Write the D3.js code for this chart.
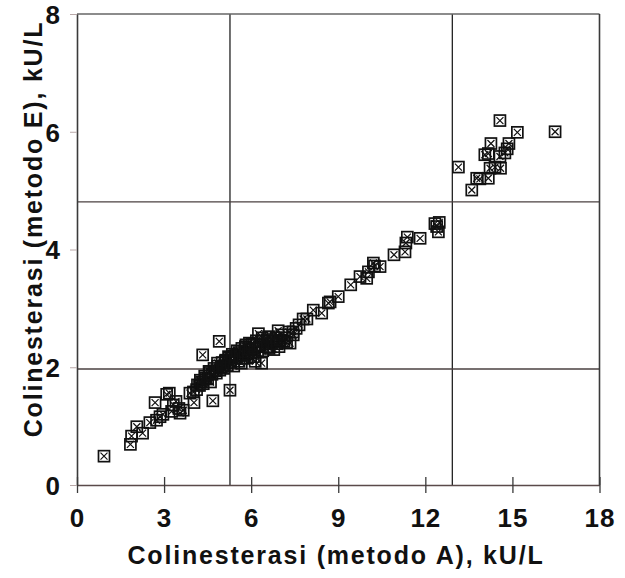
<!DOCTYPE html>
<html>
<head>
<meta charset="utf-8">
<script src="https://cdn.jsdelivr.net/npm/d3@7"></script>
<style>
	body { margin: 0; background: #fff; }
	text { font-family: "Liberation Sans", Arial, sans-serif; font-weight: bold; fill: #111; }
</style>
</head>
<body>
<div id="chart"></div>
<script>
// metodo A (x) vs metodo E (y), kU/L
const metodoA = [
	0.93, 1.84, 1.88, 2.06, 2.26, 2.51, 2.69, 2.74, 2.86, 2.96, 3.09, 3.18, 3.26, 3.32, 3.41, 3.55, 3.66, 3.51,
	3.89, 4.03, 4.12, 4.01, 4.22, 4.29, 4.43, 4.33, 4.68, 4.57, 4.77, 4.90, 4.84, 4.98, 5.11, 5.27, 5.25, 5.39,
	5.50, 5.59, 5.66, 5.80, 5.87, 5.94, 6.00, 6.14, 6.25, 6.28, 6.36, 6.42, 6.55, 6.62, 6.76, 6.93, 6.96, 7.13,
	7.34, 7.44, 7.65, 7.79, 7.92, 8.14, 8.43, 8.66, 8.72, 9.00, 9.43, 9.75, 9.98, 10.04, 10.21, 10.25, 10.44,
	10.92, 11.30, 11.33, 11.38, 11.82, 12.33, 12.39, 12.45, 12.48,
	// dense band
	4.15, 4.25, 4.35, 4.40, 4.50, 4.55, 4.60, 4.65, 4.72, 4.80, 4.85, 4.92, 5.00, 5.05, 5.12, 5.18, 5.22, 5.30,
	5.35, 5.40, 5.45, 5.52, 5.58, 5.62, 5.68, 5.72, 5.78, 5.82, 5.90, 5.95, 6.02, 6.08, 6.12, 6.18, 6.22, 6.30,
	6.38, 6.40, 6.48, 6.55, 6.60, 6.70, 6.78, 6.85, 6.90, 7.00, 7.05, 7.15, 7.22, 7.30, 7.45, 7.55,
	// upper group
	13.14, 13.60, 13.77, 13.88, 14.17, 14.23, 14.40, 14.59, 14.05, 14.17, 14.57, 14.74, 14.82, 14.26, 14.88,
	14.57, 15.17, 16.47,
];
const metodoE = [
	0.49, 0.69, 0.83, 0.99, 0.88, 1.06, 1.40, 1.10, 1.16, 1.20, 1.54, 1.56, 1.25, 1.36, 1.42, 1.22, 1.27, 1.30,
	1.56, 1.40, 1.62, 1.58, 1.69, 1.75, 1.82, 2.21, 1.43, 1.91, 1.94, 2.44, 2.07, 2.00, 2.10, 1.61, 2.16, 2.19,
	2.21, 2.25, 2.07, 2.35, 2.16, 2.41, 2.25, 2.10, 2.57, 2.35, 2.07, 2.44, 2.47, 2.32, 2.44, 2.62, 2.35, 2.44,
	2.41, 2.60, 2.72, 2.82, 2.82, 2.97, 2.92, 3.09, 3.11, 3.20, 3.40, 3.54, 3.51, 3.62, 3.77, 3.72, 3.71,
	3.91, 3.96, 4.11, 4.21, 4.19, 4.44, 4.39, 4.30, 4.46,
	1.70, 1.78, 1.72, 1.85, 1.80, 1.93, 1.75, 1.88, 1.98, 1.90, 2.02, 1.95, 2.08, 1.98, 2.12, 2.03, 2.18, 2.08,
	2.22, 2.02, 2.15, 2.28, 2.10, 2.20, 2.32, 2.15, 2.26, 2.38, 2.22, 2.30, 2.40, 2.18, 2.32, 2.45, 2.26, 2.38,
	2.50, 2.28, 2.40, 2.35, 2.52, 2.42, 2.30, 2.50, 2.40, 2.46, 2.55, 2.50, 2.42, 2.60, 2.55, 2.66,
	5.40, 5.01, 5.21, 5.20, 5.21, 5.38, 5.40, 5.38, 5.61, 5.63, 5.58, 5.64, 5.71, 5.80, 5.80,
	6.19, 5.99, 6.00,
];
const xTicks = [0, 3, 6, 9, 12, 15, 18];
const yTicks = [0, 2, 4, 6, 8];
const refX = [5.27, 12.93];
const refY = [1.97, 4.81];
const xTitle = "Colinesterasi (metodo A), kU/L";
const yTitle = "Colinesterasi (metodo E), kU/L";

const width = 625;
const height = 578;
const margin = { top: 14, right: 25.5, bottom: 93, left: 77 };

const svg = d3
	.select("#chart")
	.append("svg")
	.attr("width", width)
	.attr("height", height);

const x = d3.scaleLinear().domain([0, 18]).range([margin.left, width - margin.right]);
const y = d3.scaleLinear().domain([0, 8]).range([height - margin.bottom, margin.top]);

const lineColor = "#3a3a3a";

// reference lines
svg.selectAll(".refx")
	.data(refX)
	.join("line")
	.attr("x1", d => x(d)).attr("x2", d => x(d))
	.attr("y1", y(8)).attr("y2", y(0))
	.attr("stroke", "#222").attr("stroke-width", 1.3);

svg.selectAll(".refy")
	.data(refY)
	.join("line")
	.attr("x1", x(0)).attr("x2", x(18))
	.attr("y1", d => y(d)).attr("y2", d => y(d))
	.attr("stroke", "#4a4040").attr("stroke-width", 1.3);

// frame top / right
svg.append("line")
	.attr("x1", x(0)).attr("x2", x(18)).attr("y1", y(8)).attr("y2", y(8))
	.attr("stroke", "#666").attr("stroke-width", 1.3);
svg.append("line")
	.attr("x1", x(18)).attr("x2", x(18)).attr("y1", y(8)).attr("y2", y(0))
	.attr("stroke", lineColor).attr("stroke-width", 1.6);

// x axis
const gx = svg.append("g")
	.attr("transform", `translate(0,${y(0)})`)
	.call(d3.axisBottom(x).tickValues(xTicks).tickSize(8).tickPadding(16).tickSizeOuter(0));
gx.select(".domain").attr("stroke", "#5a4a4a").attr("stroke-width", 1.3);
gx.selectAll(".tick line").attr("y1", -8).attr("y2", 8).attr("stroke", lineColor).attr("stroke-width", 1.3);
gx.selectAll(".tick text")
	.attr("font-size", 26).attr("font-family", null).attr("fill", "#111").attr("letter-spacing", 1);

// y axis
const gy = svg.append("g")
	.attr("transform", `translate(${x(0)},0)`)
	.call(d3.axisLeft(y).tickValues(yTicks).tickSize(7).tickPadding(10).tickSizeOuter(0));
gy.select(".domain").attr("stroke", lineColor).attr("stroke-width", 1.6);
gy.selectAll(".tick line").attr("stroke", "#b8a8a8").attr("stroke-width", 1);
gy.selectAll(".tick text")
	.attr("font-size", 26).attr("font-family", null).attr("fill", "#111").attr("dy", "0.36em");

// titles
svg.append("text")
	.attr("x", 336)
	.attr("y", 564)
	.attr("text-anchor", "middle")
	.attr("font-size", 25)
	.attr("letter-spacing", 1.8)
	.text(xTitle);

svg.append("text")
	.attr("transform", `translate(42,${229}) rotate(-90)`)
	.attr("text-anchor", "middle")
	.attr("font-size", 25)
	.attr("letter-spacing", 1.8)
	.text(yTitle);

// markers: square with an X
const s = 5.5;
const pts = metodoA.map((a, i) => [a, metodoE[i]]);
const marks = svg.append("g")
	.selectAll("g")
	.data(pts)
	.join("g")
	.attr("transform", d => `translate(${x(d[0])},${y(d[1])})`);

marks.append("rect")
	.attr("x", -s).attr("y", -s).attr("width", 2 * s).attr("height", 2 * s)
	.attr("fill", "none").attr("stroke", "#111").attr("stroke-width", 1.7);
marks.append("path")
	.attr("d", `M${-s + 2},${-s + 2}L${s - 2},${s - 2}M${s - 2},${-s + 2}L${-s + 2},${s - 2}`)
	.attr("stroke", "#111").attr("stroke-width", 1.2);
</script>
</body>
</html>
